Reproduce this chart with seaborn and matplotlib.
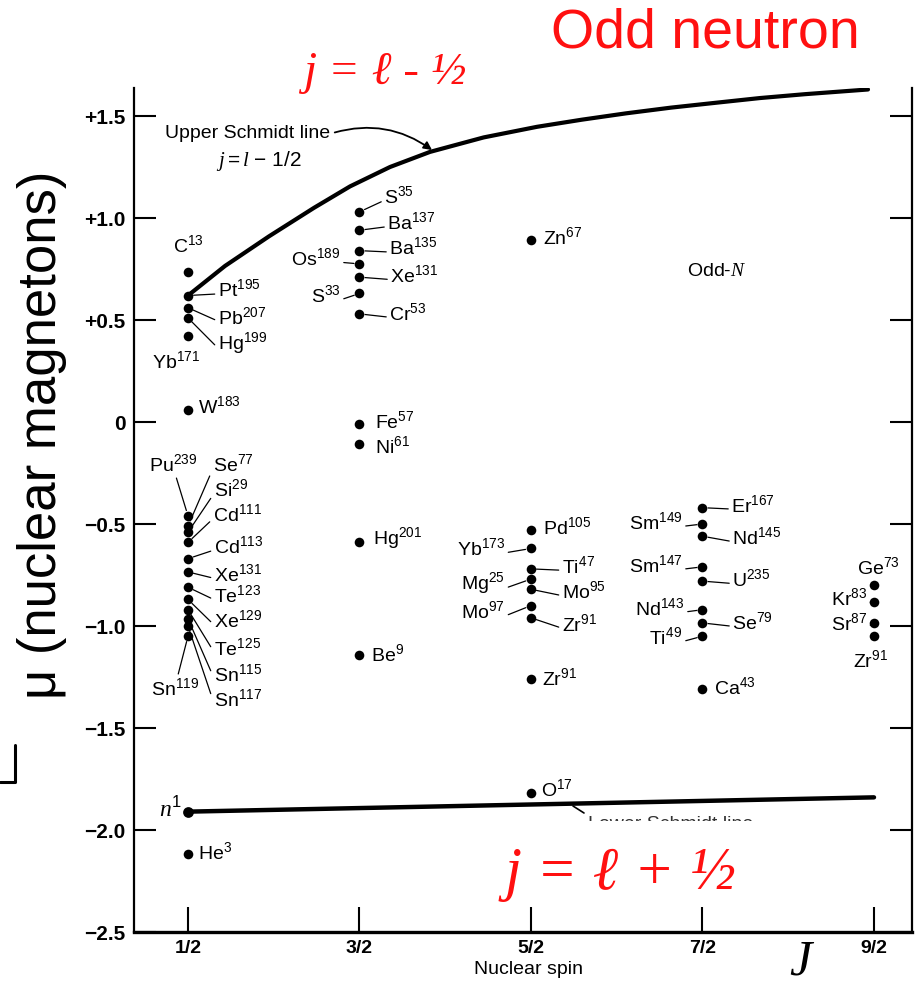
import matplotlib
matplotlib.use("Agg")
import matplotlib.pyplot as plt
from matplotlib.lines import Line2D
from matplotlib.transforms import Bbox
import pandas as pd
import seaborn as sns

# ---------------------------------------------------------------- data
# odd-neutron nuclides: element, mass number, spin J, magnetic moment (nuclear magnetons)
symbols = ["C", "Pt", "Pb", "Hg", "Yb", "W", "Pu", "Se", "Si", "Cd", "Cd", "Xe", "Te", "Xe",
           "Te", "Sn", "Sn", "Sn", "He",
           "S", "Ba", "Ba", "Os", "Xe", "S", "Cr", "Fe", "Ni", "Hg", "Be",
           "Zn", "Pd", "Yb", "Ti", "Mg", "Mo", "Mo", "Zr", "Zr", "O",
           "Er", "Sm", "Nd", "Sm", "U", "Nd", "Se", "Ti", "Ca",
           "Ge", "Kr", "Sr", "Zr"]
mass_numbers = [13, 195, 207, 199, 171, 183, 239, 77, 29, 111, 113, 131, 123, 129,
                125, 115, 117, 119, 3,
                35, 137, 135, 189, 131, 33, 53, 57, 61, 201, 9,
                67, 105, 173, 47, 25, 95, 97, 91, 91, 17,
                167, 149, 145, 147, 235, 143, 79, 49, 43,
                73, 83, 87, 91]
spins = [0.5, 0.5, 0.5, 0.5, 0.5, 0.5, 0.5, 0.5, 0.5, 0.5, 0.5, 0.5, 0.5, 0.5,
         0.5, 0.5, 0.5, 0.5, 0.5,
         1.5, 1.5, 1.5, 1.5, 1.5, 1.5, 1.5, 1.5, 1.5, 1.5, 1.5,
         2.5, 2.5, 2.5, 2.5, 2.5, 2.5, 2.5, 2.5, 2.5, 2.5,
         3.5, 3.5, 3.5, 3.5, 3.5, 3.5, 3.5, 3.5, 3.5,
         4.5, 4.5, 4.5, 4.5]
moments = [0.735, 0.62, 0.56, 0.51, 0.42, 0.06, -0.46, -0.51, -0.54, -0.59, -0.67, -0.735, -0.81, -0.87,
           -0.92, -0.965, -1.00, -1.05, -2.12,
           1.03, 0.94, 0.84, 0.775, 0.71, 0.63, 0.53, -0.01, -0.11, -0.59, -1.14,
           0.89, -0.53, -0.62, -0.72, -0.77, -0.82, -0.90, -0.96, -1.26, -1.82,
           -0.42, -0.50, -0.56, -0.71, -0.78, -0.92, -0.985, -1.05, -1.31,
           -0.80, -0.88, -0.985, -1.05]

# free neutron
neutron_spin = 0.5
neutron_moment = -1.91

# Schmidt limits
upper_schmidt_J = [0.5, 0.716, 0.972, 1.235, 1.445, 1.678, 1.911, 2.224, 2.535, 2.797,
                   3.054, 3.316, 3.579, 3.835, 4.098, 4.465]
upper_schmidt_mu = [0.62, 0.765, 0.91, 1.05, 1.155, 1.25, 1.324, 1.395, 1.447, 1.482,
                    1.513, 1.541, 1.565, 1.588, 1.607, 1.63]
lower_schmidt_J = [0.5, 4.5]
lower_schmidt_mu = [-1.91, -1.84]

spin_ticks = [0.5, 1.5, 2.5, 3.5, 4.5]
spin_tick_labels = ["1/2", "3/2", "5/2", "7/2", "9/2"]
mu_ticks = [1.5, 1.0, 0.5, 0.0, -0.5, -1.0, -1.5, -2.0, -2.5]
mu_tick_labels = ["+1.5", "+1.0", "+0.5", "0", "\u22120.5", "\u22121.0", "\u22121.5", "\u22122.0", "\u22122.5"]

# label placement (pixels right / down from the dot), alignment, leader line
label_layout = [
    (0, -27, "center", False), (30, -6, "left", True), (30, 9, "left", True), (30, 25, "left", True),
    (-12, 25, "center", False), (10, -4, "left", False), (-15, -52, "center", True),
    (25, -62, "left", True), (26, -43, "left", True), (25, -28, "left", True), (26, -13, "left", True),
    (26, 2, "left", True), (26, 8, "left", True), (26, 21, "left", True), (26, 38, "left", True),
    (26, 55, "left", True), (26, 73, "left", True), (-13, 52, "center", True), (10, -2, "left", False),
    # 3/2
    (25, -16, "left", True), (28, -8, "left", True), (30, -3, "left", True), (-19, -6, "right", True),
    (31, -2, "left", True), (-19, 2, "right", True), (30, -1, "left", True), (16, -3, "left", False),
    (16, 2, "left", False), (14, -4, "left", False), (12, 0, "left", False),
    # 5/2
    (12, -3, "left", False), (12, -3, "left", False), (-26, 0, "right", True), (31, -3, "left", True),
    (-26, 4, "right", True), (31, 2, "left", True), (-26, 6, "right", True), (31, 6, "left", True),
    (11, -1, "left", False), (10, -4, "left", False),
    # 7/2
    (29, -3, "left", True), (-20, -2, "right", True), (30, 1, "left", True), (-20, -2, "right", True),
    (30, -2, "left", True), (-18, -2, "right", True), (30, -1, "left", True), (-20, 1, "right", True),
    (12, -2, "left", False),
    # 9/2
    (4, -18, "center", False), (-7, -3, "right", True), (-7, 0, "right", True), (-3, 24, "center", False),
]

# ---------------------------------------------------------------- style
sns.set_theme(style="ticks")
plt.rcParams["font.family"] = ["Liberation Sans", "DejaVu Sans"]
plt.rcParams["mathtext.fontset"] = "custom"
plt.rcParams["mathtext.rm"] = "Liberation Sans"
plt.rcParams["mathtext.it"] = "Liberation Serif:italic"
plt.rcParams["mathtext.default"] = "regular"
for key in ("text.color", "axes.labelcolor", "xtick.color", "ytick.color", "axes.edgecolor"):
    plt.rcParams[key] = "black"

W, H = 918, 989
fig = plt.figure(figsize=(W / 100, H / 100), dpi=100, facecolor="white")

ax_left, ax_right, ax_top, ax_bottom = 134, 912, 88, 932
ax = fig.add_axes([ax_left / W, 1 - ax_bottom / H, (ax_right - ax_left) / W, (ax_bottom - ax_top) / H])
ax.set_facecolor("white")

px_per_J = 171.5
ax.set_xlim(0.5 - (188 - ax_left) / px_per_J, 4.5 + (ax_right - 874) / px_per_J)
ax.set_ylim(-2.5, -2.5 + (ax_bottom - ax_top) / 204.0)

df = pd.DataFrame({"J": spins, "mu": moments, "symbol": symbols, "A": mass_numbers})

# Schmidt lines
sns.lineplot(x=upper_schmidt_J, y=upper_schmidt_mu, ax=ax, color="black", lw=3.0,
             sort=False, estimator=None, zorder=3)
sns.lineplot(x=lower_schmidt_J, y=lower_schmidt_mu, ax=ax, color="black", lw=3.2,
             sort=False, estimator=None, zorder=3)

# nuclides
sns.scatterplot(data=df, x="J", y="mu", ax=ax, color="black", s=48, linewidth=0, zorder=4, legend=False)
sns.scatterplot(x=[neutron_spin], y=[neutron_moment], ax=ax, color="black", s=60, linewidth=0,
                zorder=4, legend=False)

for row, (dx, dy, ha, leader) in zip(df.itertuples(), label_layout):
    text = f"{row.symbol}$^{{{row.A}}}$"
    kw = {}
    if leader:
        relpos = {"left": (0.0, 0.3), "right": (1.0, 0.3), "center": (0.55, 0.0 if dy < 0 else 1.0)}[ha]
        kw["arrowprops"] = dict(arrowstyle="-", lw=0.9, color="black", shrinkA=0, shrinkB=4,
                                relpos=relpos)
    ax.annotate(text, xy=(row.J, row.mu), xytext=(dx, -dy), textcoords="offset pixels",
                ha=ha, va="center", fontsize=14, color="black", zorder=5, **kw)

ax.annotate(r"$\mathit{n}^{1}$", xy=(neutron_spin, neutron_moment), xytext=(-6, 2),
            textcoords="offset pixels", ha="right", va="center", fontsize=17)

# Schmidt line captions
def to_data(px, py):
    return (0.5 + (px - 188) / px_per_J, (ax_bottom - py) / 204.0 - 2.5)

ax.annotate("Upper Schmidt line", xy=to_data(432, 150), xytext=to_data(165, 133),
            ha="left", va="center", fontsize=14,
            arrowprops=dict(arrowstyle="-|>", lw=1.3, color="black", mutation_scale=12,
                            connectionstyle="arc3,rad=-0.25", relpos=(1.0, 0.45),
                            shrinkA=1, shrinkB=0))
ax.text(*to_data(259, 161), r"$\mathit{j} = \mathit{l}$ " + "\u2212 1/2", ha="center", va="center",
        fontsize=15)
ax.text(*to_data(687, 271), r"Odd-$\mathit{N}$", ha="left", va="center", fontsize=14)

# lower Schmidt caption (only its top edge shows above the cut)
ax.plot(*zip(to_data(573, 806), to_data(584, 813)), color="black", lw=1.2)
low_txt = ax.text(*to_data(588, 816), "Lower Schmidt line", ha="left", va="top", fontsize=14,
                  color="#333333")
low_txt.set_clip_box(Bbox.from_extents(560, H - 821, 900, H - 812))
low_txt.set_clip_on(True)

# axes styling
ax.set_xticks(spin_ticks, spin_tick_labels)
ax.set_yticks(mu_ticks, mu_tick_labels)
ax.tick_params(axis="y", direction="in", length=16, width=1.5, left=True, right=True,
               labelsize=15, pad=6)
ax.tick_params(axis="x", direction="in", length=18, width=1.5, bottom=True, top=False,
               labelsize=14, pad=6)
for lab in ax.get_xticklabels() + ax.get_yticklabels():
    lab.set_fontweight("bold")
ax.set_xlabel("")
ax.set_ylabel("")
ax.spines["top"].set_visible(False)
for side in ("left", "right"):
    ax.spines[side].set_linewidth(1.6)
ax.spines["bottom"].set_linewidth(2.4)

# figure-level titles and axis names
red = "#ff1010"
fig.text(705 / W, 1 - 33 / H, "Odd neutron", color=red, fontsize=40, ha="center", va="center")
fig.text(385 / W, 1 - 73 / H, "j = \u2113 - \u00bd", color=red, fontsize=34, style="italic",
         family=["Liberation Serif", "DejaVu Serif"], ha="center", va="center")
fig.text(620 / W, 1 - 874 / H, "j = \u2113 + \u00bd", color=red, fontsize=44, style="italic",
         family=["Liberation Serif", "DejaVu Serif"], ha="center", va="center")
fig.text(42 / W, 1 - 435 / H, "\u03bc (nuclear magnetons)", rotation=90, fontsize=38,
         ha="center", va="center")
fig.text(529 / W, 1 - 970 / H, "Nuclear spin", fontsize=14, ha="center", va="center")
fig.text(800 / W, 1 - 962 / H, "J", fontsize=36, style="italic",
         family=["Liberation Serif", "DejaVu Serif"], ha="center", va="center")

# small corner mark on the left margin
fig.add_artist(Line2D([15 / W, 15 / W, 0], [1 - 745 / H, 1 - 782 / H, 1 - 782 / H],
                      transform=fig.transFigure, color="black", lw=2.2))

fig.savefig("out.png", dpi=100, facecolor="white")
